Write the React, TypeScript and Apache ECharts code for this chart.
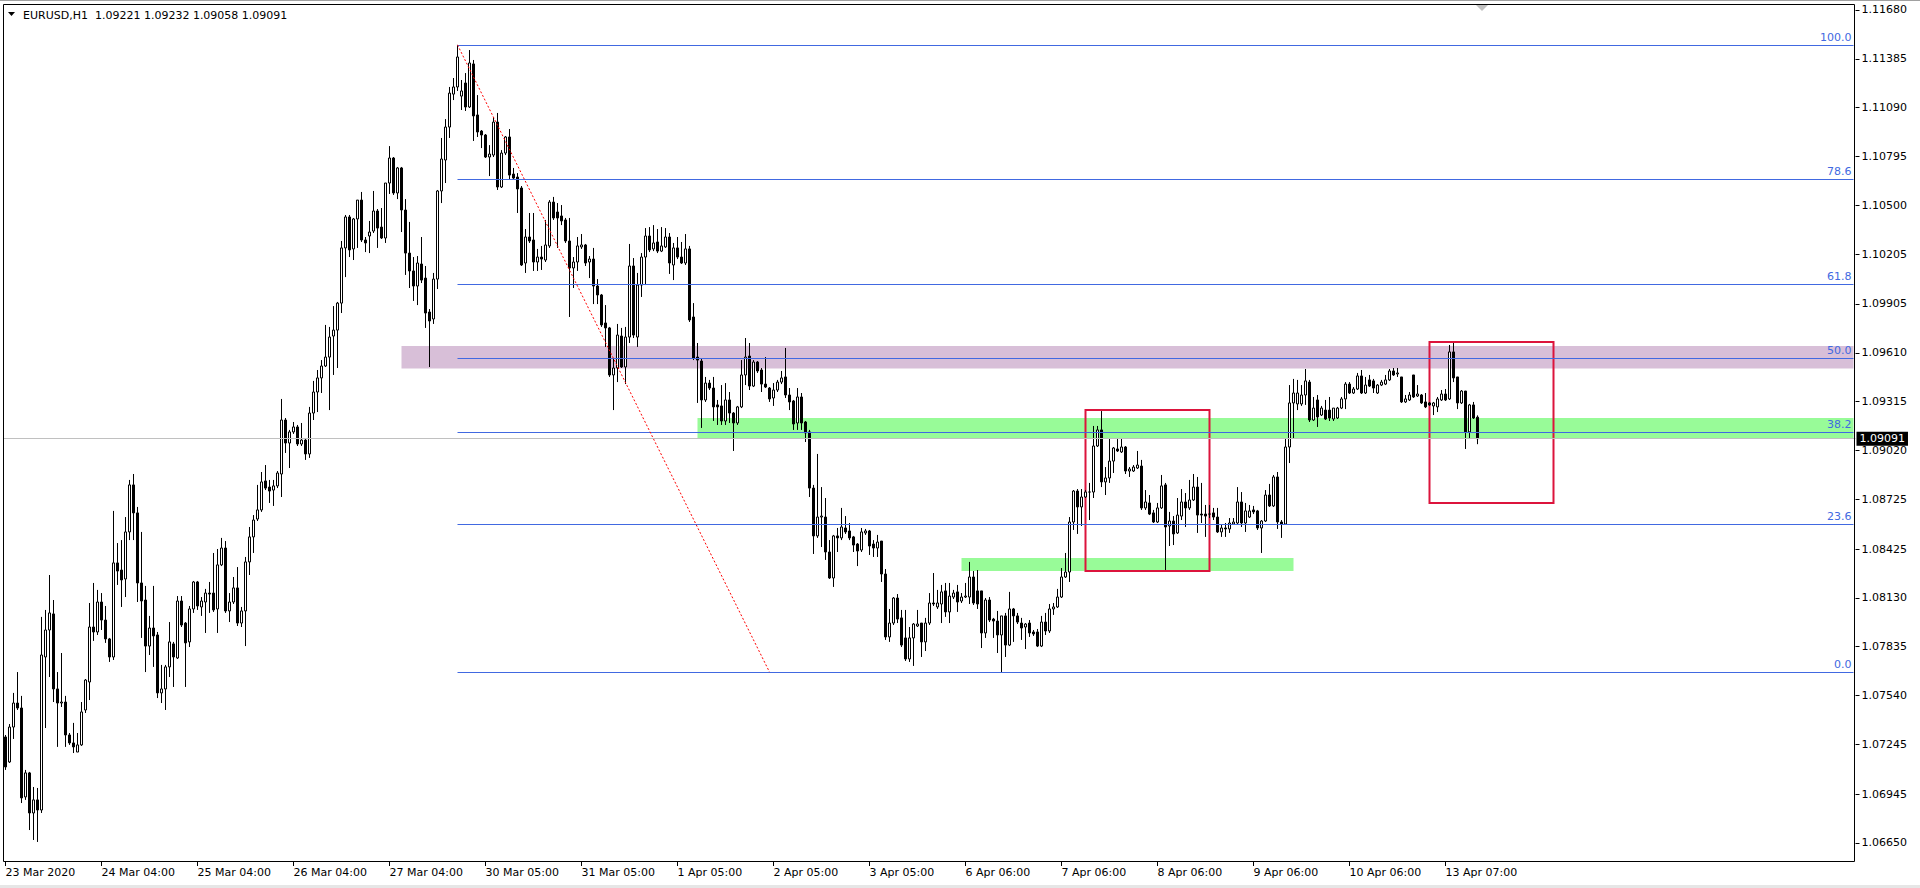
import React, { useEffect, useRef } from 'react';
import * as echarts from 'echarts';

type Bar = [number, number, number, number]; // open, close, low, high

const symbolName = 'EURUSD';
const periodName = 'H1';

const mar23: Bar[] = [
  [1.07290, 1.07109, 1.07091, 1.07302], [1.07139, 1.07350, 1.07133, 1.07368], [1.07350, 1.07495, 1.07278, 1.07556], [1.07495, 1.07465, 1.07453, 1.07682],
  [1.07465, 1.06922, 1.06891, 1.07538], [1.06928, 1.07073, 1.06910, 1.07091], [1.07073, 1.06831, 1.06728, 1.07079], [1.06831, 1.06910, 1.06668, 1.06988],
  [1.06910, 1.06849, 1.06656, 1.06982], [1.06849, 1.07785, 1.06831, 1.08015], [1.07773, 1.07936, 1.07344, 1.08057], [1.07936, 1.08039, 1.07652, 1.08268],
  [1.08033, 1.07580, 1.07501, 1.08117], [1.07580, 1.07495, 1.07230, 1.07682], [1.07495, 1.07501, 1.07471, 1.07797], [1.07501, 1.07302, 1.07230, 1.07538],
  [1.07302, 1.07254, 1.07242, 1.07314], [1.07254, 1.07230, 1.07193, 1.07375], [1.07199, 1.07242, 1.07199, 1.07314], [1.07242, 1.07441, 1.07236, 1.07501],
  [1.07453, 1.07634, 1.07435, 1.07640], [1.07622, 1.07954, 1.07513, 1.08099], [1.07954, 1.07924, 1.07870, 1.08220], [1.07924, 1.08105, 1.07906, 1.08178],
];
const mar24: Bar[] = [
  [1.08105, 1.07996, 1.07936, 1.08159], [1.07996, 1.07882, 1.07858, 1.08081], [1.07882, 1.07773, 1.07743, 1.07888], [1.07773, 1.08341, 1.07755, 1.08655],
  [1.08341, 1.08292, 1.08208, 1.08461], [1.08298, 1.08238, 1.08075, 1.08479], [1.08244, 1.08528, 1.08135, 1.08618], [1.08528, 1.08812, 1.08479, 1.08842],
  [1.08812, 1.08643, 1.08479, 1.08878], [1.08643, 1.08220, 1.08105, 1.08679], [1.08220, 1.08111, 1.07888, 1.08528], [1.08117, 1.07839, 1.07682, 1.08202],
  [1.07839, 1.07948, 1.07785, 1.08021], [1.07948, 1.07900, 1.07713, 1.08202], [1.07906, 1.07556, 1.07525, 1.07924], [1.07556, 1.07580, 1.07495, 1.07725],
  [1.07580, 1.07713, 1.07453, 1.07725], [1.07713, 1.07864, 1.07652, 1.07984], [1.07852, 1.07773, 1.07592, 1.07864], [1.07767, 1.08111, 1.07761, 1.08141],
  [1.08111, 1.07966, 1.07954, 1.08141], [1.07978, 1.07858, 1.07592, 1.07984], [1.07864, 1.08063, 1.07833, 1.08081], [1.08063, 1.08226, 1.08039, 1.08232],
];
const mar25: Bar[] = [
  [1.08226, 1.08081, 1.08057, 1.08232], [1.08075, 1.08111, 1.08021, 1.08135], [1.08105, 1.08159, 1.07918, 1.08184], [1.08159, 1.08153, 1.08039, 1.08226],
  [1.08159, 1.08057, 1.08045, 1.08401], [1.08063, 1.08329, 1.07918, 1.08425], [1.08329, 1.08431, 1.08322, 1.08492], [1.08431, 1.08051, 1.08039, 1.08473],
  [1.08051, 1.08105, 1.07984, 1.08159], [1.08105, 1.08190, 1.08093, 1.08256], [1.08190, 1.07978, 1.07960, 1.08316], [1.07978, 1.08051, 1.07954, 1.08075],
  [1.08051, 1.08347, 1.07839, 1.08377], [1.08347, 1.08498, 1.08268, 1.08558], [1.08498, 1.08600, 1.08401, 1.08630], [1.08606, 1.08661, 1.08594, 1.08812],
  [1.08661, 1.08830, 1.08649, 1.08890], [1.08836, 1.08793, 1.08781, 1.08932], [1.08799, 1.08775, 1.08703, 1.08842], [1.08781, 1.08806, 1.08685, 1.08842],
  [1.08806, 1.08884, 1.08793, 1.08896], [1.08878, 1.09204, 1.08739, 1.09331], [1.09204, 1.09065, 1.09005, 1.09216], [1.09065, 1.09132, 1.08914, 1.09144],
];
const mar26: Bar[] = [
  [1.09132, 1.09162, 1.09120, 1.09192], [1.09162, 1.09059, 1.09047, 1.09174], [1.09059, 1.09083, 1.09047, 1.09186], [1.09083, 1.08999, 1.08963, 1.09095],
  [1.08999, 1.09246, 1.08975, 1.09283], [1.09246, 1.09373, 1.09204, 1.09440], [1.09373, 1.09458, 1.09252, 1.09506], [1.09458, 1.09530, 1.09367, 1.09566],
  [1.09530, 1.09584, 1.09524, 1.09778], [1.09584, 1.09705, 1.09264, 1.09766], [1.09711, 1.09747, 1.09476, 1.09892], [1.09747, 1.09910, 1.09518, 1.09917],
  [1.09910, 1.10243, 1.09850, 1.10285], [1.10243, 1.10430, 1.10067, 1.10442], [1.10430, 1.10231, 1.10188, 1.10442], [1.10237, 1.10418, 1.10170, 1.10424],
  [1.10418, 1.10532, 1.10243, 1.10532], [1.10532, 1.10291, 1.10279, 1.10581], [1.10291, 1.10273, 1.10218, 1.10309], [1.10315, 1.10339, 1.10212, 1.10406],
  [1.10345, 1.10466, 1.10333, 1.10587], [1.10466, 1.10363, 1.10243, 1.10478], [1.10369, 1.10303, 1.10297, 1.10484], [1.10303, 1.10635, 1.10273, 1.10635],
];
const mar27: Bar[] = [
  [1.10635, 1.10786, 1.10569, 1.10858], [1.10786, 1.10575, 1.10563, 1.10792], [1.10575, 1.10726, 1.10538, 1.10732], [1.10726, 1.10472, 1.10339, 1.10732],
  [1.10472, 1.10212, 1.10080, 1.10538], [1.10212, 1.10104, 1.10001, 1.10400], [1.10104, 1.10013, 1.09923, 1.10188], [1.10013, 1.10152, 1.09898, 1.10194],
  [1.10146, 1.10049, 1.10031, 1.10309], [1.10061, 1.09850, 1.09760, 1.10134], [1.09856, 1.09802, 1.09524, 1.09874], [1.09814, 1.10055, 1.09784, 1.10092],
  [1.10055, 1.10587, 1.09995, 1.10593], [1.10587, 1.10780, 1.10514, 1.10907], [1.10774, 1.10973, 1.10635, 1.11021], [1.10973, 1.11178, 1.10907, 1.11215],
  [1.11172, 1.11215, 1.11136, 1.11269], [1.11215, 1.11396, 1.11191, 1.11469], [1.11160, 1.11191, 1.11076, 1.11257], [1.11239, 1.11094, 1.11070, 1.11299],
  [1.11094, 1.11360, 1.11088, 1.11438], [1.11354, 1.11040, 1.10889, 1.11378], [1.11046, 1.10943, 1.10913, 1.11166], [1.10949, 1.10925, 1.10846, 1.10955],
];
const mar30: Bar[] = [
  [1.10925, 1.10792, 1.10786, 1.10931], [1.10792, 1.10810, 1.10677, 1.10864], [1.10804, 1.11003, 1.10792, 1.11034], [1.11003, 1.10611, 1.10593, 1.11058],
  [1.10611, 1.10816, 1.10605, 1.10834], [1.10816, 1.10913, 1.10804, 1.10919], [1.10913, 1.10683, 1.10659, 1.10961], [1.10689, 1.10665, 1.10659, 1.10726],
  [1.10671, 1.10599, 1.10454, 1.10695], [1.10605, 1.10140, 1.10134, 1.10617], [1.10152, 1.10309, 1.10092, 1.10357], [1.10309, 1.10285, 1.10273, 1.10454],
  [1.10291, 1.10158, 1.10104, 1.10454], [1.10158, 1.10188, 1.10104, 1.10237], [1.10188, 1.10176, 1.10110, 1.10255], [1.10170, 1.10261, 1.10158, 1.10412],
  [1.10255, 1.10520, 1.10243, 1.10532], [1.10520, 1.10424, 1.10412, 1.10551], [1.10460, 1.10424, 1.10243, 1.10514], [1.10436, 1.10406, 1.10381, 1.10502],
  [1.10412, 1.10285, 1.10273, 1.10424], [1.10285, 1.10122, 1.09826, 1.10424], [1.10122, 1.10158, 1.10001, 1.10188], [1.10158, 1.10255, 1.10104, 1.10309],
];
const mar31: Bar[] = [
  [1.10249, 1.10261, 1.10237, 1.10327], [1.10261, 1.10152, 1.10134, 1.10267], [1.10158, 1.10176, 1.10061, 1.10194], [1.10176, 1.10013, 1.09904, 1.10243],
  [1.10013, 1.09959, 1.09904, 1.10055], [1.09959, 1.09778, 1.09766, 1.09965], [1.09790, 1.09760, 1.09645, 1.09898], [1.09760, 1.09476, 1.09464, 1.09766],
  [1.09476, 1.09518, 1.09264, 1.09578], [1.09518, 1.09717, 1.09433, 1.09784], [1.09711, 1.09524, 1.09518, 1.09760], [1.09524, 1.09705, 1.09421, 1.09766],
  [1.09705, 1.10134, 1.09669, 1.10267], [1.10134, 1.09717, 1.09699, 1.10182], [1.09705, 1.10019, 1.09645, 1.10092], [1.10019, 1.10188, 1.09947, 1.10212],
  [1.10188, 1.10315, 1.10019, 1.10363], [1.10315, 1.10231, 1.10218, 1.10369], [1.10237, 1.10273, 1.10224, 1.10381], [1.10279, 1.10224, 1.10212, 1.10357],
  [1.10224, 1.10255, 1.10218, 1.10369], [1.10249, 1.10309, 1.10243, 1.10363], [1.10309, 1.10152, 1.10086, 1.10333], [1.10140, 1.10243, 1.10049, 1.10273],
];
const apr01: Bar[] = [
  [1.10243, 1.10188, 1.10176, 1.10309], [1.10188, 1.10152, 1.10146, 1.10279], [1.10152, 1.10237, 1.10140, 1.10327], [1.10237, 1.09808, 1.09796, 1.10255],
  [1.09826, 1.09578, 1.09566, 1.09910], [1.09584, 1.09566, 1.09307, 1.09669], [1.09560, 1.09325, 1.09156, 1.09578], [1.09325, 1.09427, 1.09313, 1.09464],
  [1.09427, 1.09397, 1.09385, 1.09446], [1.09397, 1.09283, 1.09198, 1.09464], [1.09295, 1.09283, 1.09174, 1.09325], [1.09289, 1.09198, 1.09174, 1.09415],
  [1.09198, 1.09325, 1.09174, 1.09427], [1.09325, 1.09246, 1.09186, 1.09373], [1.09246, 1.09186, 1.09017, 1.09252], [1.09186, 1.09283, 1.09174, 1.09289],
  [1.09283, 1.09476, 1.09276, 1.09566], [1.09476, 1.09584, 1.09415, 1.09699], [1.09590, 1.09409, 1.09385, 1.09669], [1.09409, 1.09554, 1.09403, 1.09566],
  [1.09554, 1.09500, 1.09488, 1.09560], [1.09506, 1.09421, 1.09373, 1.09518], [1.09421, 1.09403, 1.09397, 1.09584], [1.09397, 1.09331, 1.09313, 1.09403],
];
const apr02: Bar[] = [
  [1.09337, 1.09385, 1.09289, 1.09427], [1.09385, 1.09433, 1.09373, 1.09446], [1.09433, 1.09458, 1.09421, 1.09500], [1.09464, 1.09355, 1.09337, 1.09639],
  [1.09355, 1.09313, 1.09264, 1.09397], [1.09319, 1.09180, 1.09144, 1.09325], [1.09186, 1.09343, 1.09144, 1.09397], [1.09343, 1.09186, 1.09144, 1.09367],
  [1.09192, 1.09126, 1.09071, 1.09198], [1.09132, 1.08793, 1.08739, 1.09144], [1.08793, 1.08504, 1.08395, 1.08812], [1.08504, 1.08618, 1.08492, 1.08999],
  [1.08618, 1.08624, 1.08437, 1.08799], [1.08618, 1.08407, 1.08359, 1.08733], [1.08407, 1.08250, 1.08244, 1.08479], [1.08250, 1.08504, 1.08196, 1.08510],
  [1.08504, 1.08492, 1.08407, 1.08552], [1.08492, 1.08558, 1.08479, 1.08673], [1.08552, 1.08528, 1.08516, 1.08624], [1.08534, 1.08492, 1.08479, 1.08582],
  [1.08498, 1.08449, 1.08407, 1.08504], [1.08455, 1.08413, 1.08322, 1.08461], [1.08419, 1.08528, 1.08407, 1.08552], [1.08522, 1.08534, 1.08510, 1.08546],
];
const apr03: Bar[] = [
  [1.08534, 1.08443, 1.08389, 1.08540], [1.08455, 1.08431, 1.08377, 1.08479], [1.08431, 1.08467, 1.08377, 1.08510], [1.08473, 1.08274, 1.08226, 1.08473],
  [1.08274, 1.07894, 1.07876, 1.08304], [1.07894, 1.07978, 1.07864, 1.08063], [1.07978, 1.08129, 1.07966, 1.08135], [1.08129, 1.08002, 1.07978, 1.08153],
  [1.08009, 1.07845, 1.07833, 1.08057], [1.07888, 1.07761, 1.07749, 1.08057], [1.07761, 1.07888, 1.07743, 1.07954], [1.07888, 1.07972, 1.07719, 1.07978],
  [1.07960, 1.07972, 1.07954, 1.08057], [1.07978, 1.07864, 1.07773, 1.07978], [1.07864, 1.07978, 1.07809, 1.08009], [1.07978, 1.08099, 1.07966, 1.08159],
  [1.08099, 1.08093, 1.08081, 1.08280], [1.08075, 1.08099, 1.08063, 1.08178], [1.08093, 1.08166, 1.07978, 1.08208], [1.08172, 1.08045, 1.08015, 1.08220],
  [1.08045, 1.08141, 1.07978, 1.08220], [1.08135, 1.08159, 1.08123, 1.08178], [1.08166, 1.08105, 1.08045, 1.08208], [1.08111, 1.08135, 1.08099, 1.08159],
];
const apr06: Bar[] = [
  [1.08135, 1.08141, 1.08129, 1.08220], [1.08135, 1.08256, 1.08093, 1.08347], [1.08256, 1.08099, 1.08087, 1.08292], [1.08172, 1.08093, 1.08063, 1.08298],
  [1.08172, 1.07918, 1.07827, 1.08172], [1.07918, 1.08117, 1.07888, 1.08129], [1.08117, 1.07996, 1.07984, 1.08135], [1.08002, 1.07990, 1.07888, 1.08009],
  [1.07990, 1.07906, 1.07797, 1.08051], [1.07906, 1.08021, 1.07682, 1.08021], [1.08021, 1.07845, 1.07773, 1.08039], [1.07845, 1.08063, 1.07839, 1.08166],
  [1.08063, 1.08021, 1.07864, 1.08069], [1.08021, 1.07984, 1.07972, 1.08039], [1.07978, 1.07948, 1.07876, 1.08009], [1.07954, 1.07972, 1.07821, 1.07978],
  [1.07978, 1.07918, 1.07894, 1.07996], [1.07924, 1.07912, 1.07900, 1.07936], [1.07924, 1.07839, 1.07833, 1.07942], [1.07839, 1.07984, 1.07833, 1.08021],
  [1.07984, 1.07930, 1.07906, 1.08039], [1.07930, 1.08063, 1.07918, 1.08093], [1.08063, 1.08075, 1.08027, 1.08099], [1.08075, 1.08135, 1.08069, 1.08184],
];
const apr07: Bar[] = [
  [1.08135, 1.08256, 1.08129, 1.08310], [1.08256, 1.08286, 1.08250, 1.08401], [1.08286, 1.08588, 1.08226, 1.08618], [1.08588, 1.08775, 1.08540, 1.08781],
  [1.08775, 1.08679, 1.08516, 1.08787], [1.08679, 1.08739, 1.08564, 1.08787], [1.08739, 1.08769, 1.08733, 1.08781], [1.08769, 1.08769, 1.08600, 1.08824],
  [1.08769, 1.09047, 1.08733, 1.09168], [1.09047, 1.09144, 1.09041, 1.09168], [1.09144, 1.08830, 1.08799, 1.09258], [1.08830, 1.08854, 1.08751, 1.08920],
  [1.08854, 1.08956, 1.08824, 1.09095], [1.08956, 1.09035, 1.08884, 1.09041], [1.09029, 1.09017, 1.09011, 1.09095], [1.09011, 1.09041, 1.09005, 1.09095],
  [1.09041, 1.08896, 1.08878, 1.09047], [1.08896, 1.08908, 1.08860, 1.08920], [1.08896, 1.08920, 1.08890, 1.08932], [1.08914, 1.08932, 1.08908, 1.09017],
  [1.08926, 1.08673, 1.08661, 1.08963], [1.08673, 1.08709, 1.08661, 1.08781], [1.08703, 1.08636, 1.08630, 1.08751], [1.08643, 1.08588, 1.08582, 1.08661],
];
const apr08: Bar[] = [
  [1.08588, 1.08673, 1.08582, 1.08703], [1.08673, 1.08806, 1.08667, 1.08872], [1.08812, 1.08558, 1.08298, 1.08824], [1.08564, 1.08594, 1.08443, 1.08649],
  [1.08594, 1.08516, 1.08449, 1.08624], [1.08522, 1.08630, 1.08516, 1.08733], [1.08624, 1.08709, 1.08600, 1.08787], [1.08709, 1.08673, 1.08558, 1.08763],
  [1.08673, 1.08721, 1.08661, 1.08842], [1.08721, 1.08799, 1.08715, 1.08878], [1.08799, 1.08630, 1.08522, 1.08860], [1.08636, 1.08630, 1.08582, 1.08824],
  [1.08636, 1.08624, 1.08498, 1.08691], [1.08636, 1.08636, 1.08612, 1.08691], [1.08643, 1.08618, 1.08600, 1.08673], [1.08618, 1.08528, 1.08522, 1.08673],
  [1.08528, 1.08552, 1.08498, 1.08576], [1.08552, 1.08546, 1.08498, 1.08582], [1.08546, 1.08582, 1.08522, 1.08612], [1.08576, 1.08588, 1.08570, 1.08612],
  [1.08582, 1.08709, 1.08576, 1.08799], [1.08709, 1.08582, 1.08558, 1.08769], [1.08582, 1.08655, 1.08528, 1.08703], [1.08618, 1.08655, 1.08612, 1.08691],
];
const apr09: Bar[] = [
  [1.08661, 1.08649, 1.08636, 1.08685], [1.08655, 1.08552, 1.08540, 1.08661], [1.08552, 1.08594, 1.08401, 1.08600], [1.08594, 1.08751, 1.08588, 1.08781],
  [1.08751, 1.08685, 1.08679, 1.08818], [1.08685, 1.08860, 1.08679, 1.08872], [1.08860, 1.08588, 1.08546, 1.08890], [1.08588, 1.08576, 1.08492, 1.08600],
  [1.08576, 1.09041, 1.08570, 1.09095], [1.09041, 1.09307, 1.08944, 1.09415], [1.09307, 1.09367, 1.09095, 1.09452], [1.09301, 1.09367, 1.09264, 1.09446],
  [1.09301, 1.09355, 1.09289, 1.09415], [1.09355, 1.09440, 1.09295, 1.09512], [1.09433, 1.09204, 1.09192, 1.09446], [1.09204, 1.09276, 1.09198, 1.09343],
  [1.09325, 1.09222, 1.09162, 1.09355], [1.09234, 1.09276, 1.09228, 1.09289], [1.09264, 1.09210, 1.09204, 1.09325], [1.09264, 1.09216, 1.09198, 1.09343],
  [1.09210, 1.09276, 1.09198, 1.09276], [1.09216, 1.09276, 1.09210, 1.09283], [1.09276, 1.09331, 1.09270, 1.09343], [1.09331, 1.09421, 1.09270, 1.09433],
];
const apr10: Bar[] = [
  [1.09421, 1.09367, 1.09361, 1.09433], [1.09367, 1.09391, 1.09361, 1.09403], [1.09391, 1.09470, 1.09385, 1.09488], [1.09470, 1.09367, 1.09361, 1.09506],
  [1.09367, 1.09415, 1.09361, 1.09464], [1.09446, 1.09409, 1.09403, 1.09476], [1.09440, 1.09397, 1.09367, 1.09452], [1.09367, 1.09415, 1.09361, 1.09421],
  [1.09415, 1.09433, 1.09409, 1.09446], [1.09421, 1.09446, 1.09415, 1.09476], [1.09446, 1.09500, 1.09440, 1.09512], [1.09500, 1.09476, 1.09470, 1.09518],
  [1.09482, 1.09488, 1.09464, 1.09518], [1.09464, 1.09313, 1.09307, 1.09464], [1.09313, 1.09331, 1.09307, 1.09355], [1.09325, 1.09355, 1.09319, 1.09373],
  [1.09476, 1.09343, 1.09337, 1.09476], [1.09349, 1.09361, 1.09343, 1.09415], [1.09355, 1.09307, 1.09301, 1.09361], [1.09313, 1.09283, 1.09276, 1.09367],
  [1.09307, 1.09295, 1.09289, 1.09313], [1.09289, 1.09307, 1.09234, 1.09313], [1.09283, 1.09331, 1.09252, 1.09343], [1.09325, 1.09361, 1.09319, 1.09385],
];
const apr13: Bar[] = [
  [1.09361, 1.09325, 1.09319, 1.09391], [1.09331, 1.09615, 1.09325, 1.09657], [1.09615, 1.09458, 1.09433, 1.09669], [1.09464, 1.09307, 1.09270, 1.09464],
  [1.09307, 1.09379, 1.09301, 1.09385], [1.09379, 1.09132, 1.09029, 1.09379], [1.09132, 1.09295, 1.09089, 1.09301], [1.09295, 1.09216, 1.09210, 1.09313],
  [1.09221, 1.09091, 1.09058, 1.09232],
];

const sessions: Bar[][] = [mar23, mar24, mar25, mar26, mar27, mar30, mar31, apr01, apr02, apr03, apr06, apr07, apr08, apr09, apr10, apr13];

const timeLabels = [
  '23 Mar 2020', '24 Mar 04:00', '25 Mar 04:00', '26 Mar 04:00', '27 Mar 04:00', '30 Mar 05:00', '31 Mar 05:00', '1 Apr 05:00',
  '2 Apr 05:00', '3 Apr 05:00', '6 Apr 06:00', '7 Apr 06:00', '8 Apr 06:00', '9 Apr 06:00', '10 Apr 06:00', '13 Apr 07:00',
];
const barsPerLabel = 24;
const totalSlots = 463; // visible bar slots incl. right shift

const priceTicks = [
  1.06650, 1.06945, 1.07245, 1.07540, 1.07835, 1.08130, 1.08425, 1.08725, 1.09020,
  1.09315, 1.09610, 1.09905, 1.10205, 1.10500, 1.10795, 1.11090, 1.11385, 1.11680,
];
const priceMin = 1.06535;
const priceMax = 1.11716;

// Fibonacci retracement: anchored at bar index of the high and low
const fibHigh = 1.11469;
const fibLow = 1.07682;
const fibHighBar = 113;
const fibLowBar = 191;
const fibLevels = [100, 78.6, 61.8, 50, 38.2, 23.6, 0];

// zones: [fromBar, toBar, priceTop, priceBottom]
const resistanceZone = [99, 462, 1.09651, 1.09515];
const supportZones = [
  [173, 462, 1.09216, 1.09089],
  [239, 322, 1.08371, 1.08292],
];
const highlightBoxes = [
  [270, 301, 1.09264, 1.08292],
  [356, 387, 1.09675, 1.08703],
];

export default function App() {
  const ref = useRef<HTMLDivElement>(null);
  useEffect(() => {
    document.body.style.margin = '0';
    document.body.style.overflow = 'hidden';
    const chart = echarts.init(ref.current as HTMLDivElement, null, { renderer: 'svg' });
    const bars = sessions.flat();
    const last = bars[bars.length - 1];
    const bid = last[1];
    const lastSlot = totalSlots - 1;
    const cats = Array.from({ length: totalSlots }, (_, i) => String(i));
    const showIdx = (i: number) => i % barsPerLabel === 0 && i / barsPerLabel < timeLabels.length;
    const font = 'DejaVu Sans';
    const blue = '#4169E1';

    const fibLines = fibLevels.map((lv) => {
      const p = fibLow + ((fibHigh - fibLow) * lv) / 100;
      const lbl = { show: true, position: 'insideEndTop', formatter: lv.toFixed(1), color: blue, fontSize: 11, fontFamily: font, distance: 2 };
      const ls = { color: blue, width: 1, type: 'solid' };
      return [
        { coord: [fibHighBar, p], lineStyle: ls, label: lbl },
        { coord: [lastSlot, p], lineStyle: ls, label: lbl },
      ];
    });
    const trendLs = { color: '#ff0000', width: 1, type: [2, 2] };
    const trend = [
      { coord: [fibHighBar, fibHigh], lineStyle: trendLs, label: { show: false } },
      { coord: [fibLowBar, fibLow], lineStyle: trendLs, label: { show: false } },
    ];

    const zone = (z: number[], style: any) => [
      { coord: [z[0], z[2]], itemStyle: style },
      { coord: [z[1], z[3]], itemStyle: style },
    ];
    const areas = [
      zone(resistanceZone, { color: '#D8BFD8' }),
      ...supportZones.map((z) => zone(z, { color: '#98FB98' })),
      ...highlightBoxes.map((z) => zone(z, { color: 'rgba(0,0,0,0)', borderColor: '#DC143C', borderWidth: 2 })),
    ];

    const title = `${symbolName},${periodName}  ${last[0].toFixed(5)} ${last[3].toFixed(5)} ${last[2].toFixed(5)} ${last[1].toFixed(5)}`;

    chart.setOption({
      animation: false,
      backgroundColor: '#ffffff',
      grid: { left: 3.5, right: 64.5, top: 4, bottom: 26, show: false },
      xAxis: {
        type: 'category',
        data: cats,
        boundaryGap: true,
        axisLine: { show: false },
        axisTick: { show: true, alignWithLabel: true, length: 4, interval: (i: number) => showIdx(i), lineStyle: { color: '#000' } },
        axisLabel: {
          show: true,
          interval: (i: number) => showIdx(i),
          formatter: (_v: string, i: number) => (showIdx(i) ? timeLabels[i / barsPerLabel] : ''),
          align: 'left',
          margin: 5,
          color: '#000',
          fontSize: 11,
          fontFamily: font,
        },
        splitLine: { show: false },
      },
      yAxis: {
        type: 'value',
        position: 'right',
        min: priceMin,
        max: priceMax,
        axisLine: { show: false },
        axisTick: { show: true, length: 4, customValues: priceTicks, lineStyle: { color: '#000' } },
        axisLabel: {
          show: true,
          customValues: priceTicks,
          formatter: (v: number) => v.toFixed(5),
          margin: 6,
          color: '#000',
          fontSize: 11,
          fontFamily: font,
        },
        splitLine: { show: false },
      },
      series: [
        {
          type: 'candlestick',
          data: bars,
          barWidth: 2,
          itemStyle: { color: '#ffffff', color0: '#000000', borderColor: '#000000', borderColor0: '#000000', borderWidth: 1 },
          markArea: { silent: true, label: { show: false }, data: areas },
          markLine: {
            silent: true,
            precision: 5,
            symbol: ['none', 'none'],
            label: { show: false },
            data: [
              ...fibLines,
              trend,
              {
                yAxis: bid,
                lineStyle: { color: '#c0c0c0', width: 1, type: 'solid' },
                label: {
                  show: true,
                  position: 'end',
                  formatter: bid.toFixed(5),
                  backgroundColor: '#000',
                  color: '#fff',
                  padding: [2, 3, 1, 3],
                  fontSize: 11,
                  fontFamily: font,
                  distance: 1,
                },
              },
            ],
          },
        },
      ],
      graphic: [
        { type: 'line', silent: true, shape: { x1: 0, y1: 0.5, x2: 1920, y2: 0.5 }, style: { stroke: '#a0a0a0', lineWidth: 1 } },
        { type: 'rect', silent: true, shape: { x: 0, y: 885, width: 1920, height: 3 }, style: { fill: '#e6e6e6' } },
        { type: 'rect', silent: true, z: 100, shape: { x: 3.5, y: 4.5, width: 1851, height: 857 }, style: { fill: 'none', stroke: '#000', lineWidth: 1 } },
        { type: 'polygon', silent: true, z: 100, shape: { points: [[8, 12], [15, 12], [11.5, 16]] }, style: { fill: '#000' } },
        { type: 'text', silent: true, z: 100, x: 23, y: 15, style: { text: title, fontSize: 11, fontFamily: font, fill: '#000', verticalAlign: 'middle' } },
        { type: 'polygon', silent: true, z: 100, shape: { points: [[1476, 5], [1488, 5], [1482, 11]] }, style: { fill: '#c0c0c0' } },
      ],
    });
    return () => chart.dispose();
  }, []);
  return <div ref={ref} style={{ width: 1920, height: 888 }} />;
}
